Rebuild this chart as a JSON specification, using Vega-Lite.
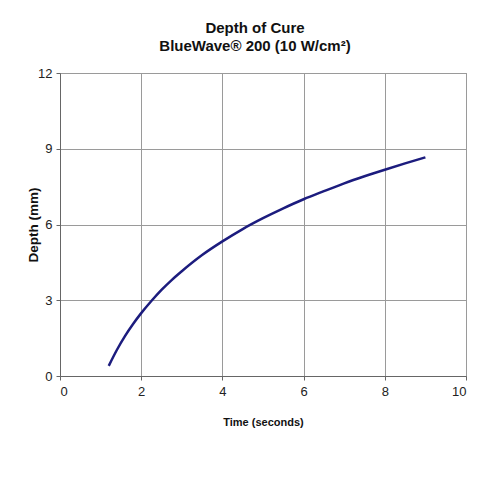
{
  "$schema": "https://vega.github.io/schema/vega-lite/v6.json",
  "autosize": {"type": "none"},
  "width": 406,
  "height": 303,
  "padding": {"left": 60, "top": 73, "right": 16, "bottom": 106},
  "background": "white",
  "title": {
    "text": ["Depth of Cure", "BlueWave® 200 (10 W/cm²)"],
    "font": "Liberation Sans",
    "fontSize": 15,
    "fontWeight": "bold",
    "color": "#111111",
    "anchor": "middle",
    "offset": 13,
    "lineHeight": 18,
    "dx": -8
  },
  "data": {
    "values": [
      {"t": 1.2, "d": 0.40},
      {"t": 1.4, "d": 1.03},
      {"t": 1.6, "d": 1.58},
      {"t": 1.8, "d": 2.06},
      {"t": 2.0, "d": 2.49},
      {"t": 2.25, "d": 2.97},
      {"t": 2.5, "d": 3.41},
      {"t": 2.75, "d": 3.80},
      {"t": 3.0, "d": 4.15},
      {"t": 3.5, "d": 4.79},
      {"t": 4.0, "d": 5.33},
      {"t": 4.5, "d": 5.82},
      {"t": 5.0, "d": 6.25},
      {"t": 5.5, "d": 6.64},
      {"t": 6.0, "d": 7.00},
      {"t": 6.5, "d": 7.32},
      {"t": 7.0, "d": 7.63},
      {"t": 7.5, "d": 7.91},
      {"t": 8.0, "d": 8.17},
      {"t": 8.5, "d": 8.42},
      {"t": 9.0, "d": 8.66}
    ]
  },
  "mark": {"type": "line", "color": "#1c1c7e", "strokeWidth": 2.5, "interpolate": "monotone"},
  "encoding": {
    "x": {
      "field": "t", "type": "quantitative",
      "scale": {"domain": [0, 10], "nice": false},
      "axis": {"values": [0, 2, 4, 6, 8, 10], "title": "Time (seconds)"}
    },
    "y": {
      "field": "d", "type": "quantitative",
      "scale": {"domain": [0, 12], "nice": false},
      "axis": {"values": [0, 3, 6, 9, 12], "title": "Depth (mm)", "titleFontSize": 13.5}
    }
  },
  "config": {
    "view": {"stroke": "#8a8a8a", "strokeWidth": 1},
    "axis": {
      "labelFont": "Liberation Sans",
      "labelFontSize": 13,
      "labelColor": "#222222",
      "titleFont": "Liberation Sans",
      "titleFontSize": 11,
      "titleFontWeight": "bold",
      "titleColor": "#111111",
      "gridColor": "#9a9a9a",
      "gridOpacity": 1,
      "gridWidth": 1,
      "domainColor": "#666666",
      "tickColor": "#666666",
      "tickSize": 4
    },
    "axisX": {"labelPadding": 5, "titlePadding": 18},
    "axisY": {"labelPadding": 4, "titlePadding": -3}
  }
}
